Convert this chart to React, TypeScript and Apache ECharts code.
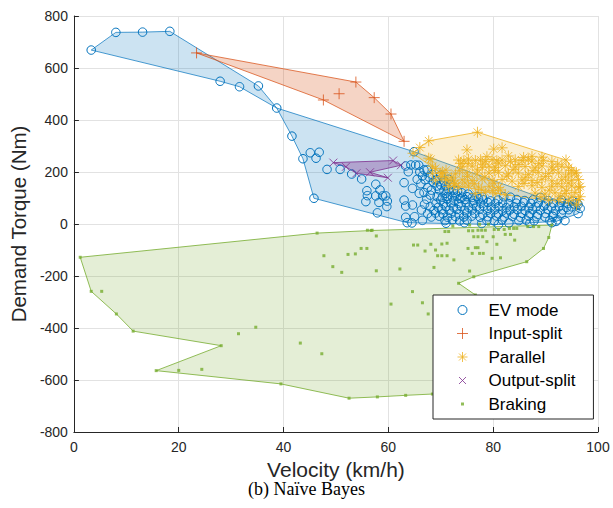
import React, { useEffect, useRef } from "react";
import * as echarts from "echarts";

// Operating points: [velocity km/h, demand torque Nm]
const evModePoints: number[][] = [
  [3.3, 669], [8.0, 737], [13.1, 738], [18.3, 741], [27.9, 549], [31.6, 528], [35.2, 531],
  [38.7, 446], [41.6, 338], [43.7, 251], [45.8, 99], [45.1, 274], [46.8, 276], [46.2, 253],
  [48.3, 210], [50.8, 210], [53.0, 192], [54.9, 173], [57.6, 153], [55.9, 128], [56.0, 109],
  [55.7, 86], [57.6, 108], [58.4, 131], [58.9, 108], [59.5, 108], [58.2, 83], [59.7, 67],
  [59.8, 88], [57.9, 43], [63.0, 159], [63.0, 92], [63.3, 69], [64.6, 73], [63.3, 26],
  [63.6, 5], [63.3, 223], [63.8, 201], [64.3, 227], [65.2, 227], [65.8, 226], [64.9, 278],
  [64.6, 137], [66.9, 76], [66.8, 208], [67.4, 208], [69.0, 169], [69.3, 146],
  [81.0, -2], [92.0, 10], [96.2, 40], [96.6, 60], [96.2, 75], [89.0, 102],
  [66.0, 200], [66.5, 185], [67.0, 170], [66.2, 155], [67.5, 140], [66.8, 121], [68.0, 111],
  [67.3, 95], [65.5, 172], [65.9, 118], [68.2, 130], [67.8, 180], [68.6, 160],
  [68.4, 190], [70.0, 188],
  [69.3, 170], [70.6, 166], [71.5, 172],
  [70.0, 150], [70.9, 146], [71.8, 152],
  [69.7, 131], [70.6, 129], [71.5, 133], [72.5, 130], [73.2, 127],
  [71.0, 118], [72.8, 116], [74.0, 120], [75.2, 115],
  [69.3, 105], [70.3, 103], [71.2, 106], [72.2, 104], [73.1, 107], [74.1, 103], [75.0, 105],
  [76.0, 102], [76.9, 106], [77.9, 104], [82.0, 105], [83.3, 103],
  [70.0, 92], [72.5, 90], [74.6, 94], [76.3, 91], [78.1, 93], [79.5, 89], [80.9, 92], [84.5, 94], [86.0, 90],
  [71.2, 96], [73.7, 98], [77.2, 97], [87.6, 93], [90.5, 90], [93.0, 92], [95.1, 88],
  [69.1, 80], [70.5, 78], [71.9, 81], [73.4, 79], [74.8, 82], [76.2, 78], [77.6, 80], [79.0, 83],
  [80.4, 79], [81.8, 81], [83.0, 78], [84.4, 80], [85.8, 82], [87.2, 79], [88.6, 81], [90.0, 78],
  [91.5, 80], [92.9, 83], [94.2, 79], [95.4, 77], [96.0, 81],
  [68.0, 66], [69.5, 64], [71.0, 67], [72.4, 65], [73.9, 68], [75.3, 64], [76.8, 66], [78.2, 69],
  [79.6, 65], [81.1, 67], [82.5, 63], [84.0, 66], [85.4, 68], [86.8, 64], [88.2, 66], [89.7, 69],
  [91.1, 65], [92.6, 67], [94.0, 64], [95.0, 66],
  [66.3, 54], [68.7, 52], [70.2, 55], [71.6, 53], [73.1, 56], [74.5, 52], [76.0, 54], [77.4, 57],
  [78.9, 53], [80.3, 55], [81.8, 51], [83.2, 54], [84.6, 56], [86.1, 52], [87.5, 55], [89.0, 53],
  [90.4, 56], [91.9, 52], [93.3, 54], [94.4, 55],
  [67.5, 40], [69.0, 42], [70.4, 39], [72.0, 41], [73.5, 38], [75.0, 42], [76.5, 40], [78.0, 37],
  [79.5, 41], [81.0, 39], [82.5, 42], [84.0, 38], [85.5, 41], [87.0, 40], [88.5, 37], [90.0, 41],
  [91.5, 39], [93.0, 40],
  [65.0, 28], [68.2, 27], [69.7, 30], [71.3, 26], [72.8, 29], [74.4, 27], [75.9, 30], [77.5, 26],
  [79.0, 28], [80.6, 31], [82.1, 27], [83.7, 29], [85.2, 26], [86.8, 30], [88.3, 28], [89.9, 27],
  [91.4, 29],
  [66.5, 14], [70.8, 13], [72.2, 16], [73.6, 12], [75.0, 15], [78.8, 14], [80.2, 12], [81.7, 16],
  [84.9, 13], [86.3, 15], [87.8, 12], [90.8, 14], [92.3, 16], [93.7, 13],
  [64.5, 4], [71.0, 3], [74.5, 5], [77.8, 2], [83.0, 4], [87.0, 3], [91.2, 5],
];

const inputSplitPoints: number[][] = [
  [23.4, 658], [47.6, 477], [50.6, 501], [53.8, 546], [57.3, 486], [60.5, 423], [63.0, 318],
];

const parallelPoints: number[][] = [
  [64.7, 272], [66.0, 294], [67.7, 320], [77.0, 353], [93.9, 246], [95.9, 197], [96.6, 144],
  [96.6, 105], [95.9, 73], [68.1, 249], [69.0, 214], [70.0, 195], [71.2, 169], [72.5, 150],
  [73.8, 233], [75.0, 285], [80.1, 288], [81.7, 293], [81.4, 131], [82.3, 112], [67.7, 253],
  [68.4, 222],
  [78.8, 259], [82.9, 262], [85.8, 256], [87.4, 260], [89.3, 257],
  [73.4, 246], [74.4, 243], [75.3, 249], [76.6, 244], [77.6, 247], [78.5, 241], [79.8, 248],
  [80.7, 243], [81.7, 246], [83.3, 240], [84.2, 247], [85.5, 244], [86.7, 249], [87.4, 242],
  [89.6, 245], [91.2, 240],
  [75.2, 232], [78.0, 230], [81.0, 234], [84.9, 229], [88.7, 233], [92.3, 230],
  [74.1, 220], [76.0, 223], [77.9, 217], [79.2, 222], [80.4, 218], [82.3, 224], [84.2, 219],
  [86.1, 221], [88.0, 216], [89.3, 223], [91.2, 219], [93.1, 222], [94.4, 217],
  [71.0, 207], [73.6, 205], [77.0, 208], [80.3, 206], [83.8, 209], [87.6, 205], [91.4, 208],
  [94.9, 206],
  [68.4, 195], [70.3, 198], [72.8, 193], [75.0, 197], [76.9, 192], [79.2, 196], [81.0, 199],
  [82.9, 193], [84.8, 196], [86.7, 191], [88.6, 198], [90.6, 194], [92.5, 197], [94.4, 192],
  [95.6, 196],
  [70.1, 182], [72.0, 180], [75.1, 183], [78.4, 181], [82.6, 184], [86.2, 180], [90.0, 183],
  [93.8, 181],
  [69.0, 169], [70.9, 172], [72.5, 166], [74.1, 170], [76.0, 167], [77.9, 173], [79.8, 168],
  [81.7, 171], [83.6, 165], [85.5, 170], [87.4, 167], [89.3, 172], [91.2, 166], [93.1, 170],
  [95.0, 168], [96.3, 171],
  [72.7, 156], [74.6, 158], [76.4, 155], [80.2, 157], [85.9, 156], [88.4, 159], [92.2, 155],
  [94.3, 157],
  [71.5, 144], [73.4, 141], [75.3, 146], [77.2, 142], [79.2, 145], [81.0, 140], [84.8, 144],
  [87.4, 147], [89.3, 141], [91.2, 145], [93.1, 143], [95.0, 146], [96.3, 140],
  [77.8, 131], [79.9, 129], [90.7, 130], [94.0, 128],
  [76.6, 118], [78.5, 121], [80.4, 116], [88.0, 119], [89.9, 115], [91.8, 120], [93.7, 117],
  [95.6, 121],
  [89.1, 105], [92.9, 107], [95.0, 104],
  [90.6, 92], [92.5, 95], [94.4, 90], [96.3, 94],
];

const outputSplitPoints: number[][] = [
  [49.5, 236], [51.9, 220], [53.9, 195], [56.5, 199], [59.9, 178], [60.9, 244], [62.4, 226],
];

const brakingPoints: number[][] = [
  [1.2, -128], [3.3, -259], [5.3, -259], [8.1, -346], [11.3, -412], [28.1, -468], [15.7, -564],
  [20.0, -563], [24.4, -559], [31.4, -422], [34.7, -397], [39.5, -615], [43.2, -458],
  [47.3, -499], [52.5, -670], [46.4, -35], [47.7, -122], [49.4, -164], [51.1, -186],
  [52.3, -117], [53.7, -115], [54.8, -94], [56.7, -25], [57.7, -46], [55.9, -94], [57.7, -180],
  [62.2, -173], [64.8, -81], [65.6, -81], [67.0, -104], [68.1, -78], [69.0, -100], [70.2, -77],
  [71.2, -74], [69.4, -122], [70.2, -122], [71.2, -122], [68.7, -167], [72.5, -138],
  [64.6, -260], [60.5, -308], [66.5, -303], [67.6, -346], [70.8, -29], [71.5, -29], [72.3, -8],
  [75.3, -26], [76.1, -26], [77.1, -24], [77.8, -24], [78.5, -24], [80.2, -21], [81.0, -21],
  [82.1, -21], [75.5, -4], [77.4, -1], [79.1, -1], [83.1, -17], [83.9, -17], [84.5, -17],
  [86.6, -10], [87.7, -10], [88.7, -10], [76.3, -49], [77.1, -49], [78.0, -49], [78.8, -68],
  [80.0, -49], [82.3, -40], [83.3, -40], [84.1, -62], [80.7, -78], [76.6, -91], [75.2, -94],
  [77.1, -91], [76.0, -113], [77.4, -113], [78.1, -113], [79.8, -132], [81.4, -130],
  [75.5, -181], [56.0, -24], [56.9, -24], [91.2, -4], [90.6, -52], [89.6, -94], [86.4, -145],
  [76.3, -203], [73.4, -228], [76.6, -273], [82.0, -330], [80.0, -640], [57.9, -665],
  [63.3, -659], [68.4, -654],
];

// Boundary of each mode's region, vertices taken from the points above
const evModeHull: number[][] = [
  [3.3, 669], [8.0, 737], [13.1, 738], [18.3, 741], [35.2, 531], [38.7, 446], [41.6, 338],
  [43.7, 251], [45.8, 99], [63.6, 5], [81.0, -2], [92.0, 10], [96.2, 40], [96.6, 60],
  [96.2, 75], [89.0, 102], [64.9, 278], [38.7, 446], [31.6, 528], [27.9, 549],
];
const inputSplitHull: number[][] = [
  [23.4, 658], [53.8, 546], [57.3, 486], [60.5, 423], [63.0, 318], [47.6, 477],
];
const parallelHull: number[][] = [
  [64.7, 272], [66.0, 294], [67.7, 320], [77.0, 353], [93.9, 246], [95.9, 197], [96.6, 144],
  [96.6, 105], [95.9, 73], [90.6, 92], [82.3, 112], [72.5, 150], [70.0, 195],
];
const outputSplitHull: number[][] = [
  [49.5, 236], [60.9, 244], [62.4, 226], [56.5, 199], [59.9, 178], [53.9, 195], [51.9, 220],
];
const brakingHull: number[][] = [
  [1.2, -128], [46.4, -35], [56.7, -25], [91.2, -4], [90.6, -52], [89.6, -94], [86.4, -145],
  [76.3, -203], [73.4, -228], [76.6, -273], [82.0, -330], [80.0, -640], [68.4, -654],
  [63.3, -659], [57.9, -665], [52.5, -670], [39.5, -615], [15.7, -564], [28.1, -468],
  [11.3, -412], [8.1, -346], [3.3, -259],
];

const modeNames = ["EV mode", "Input-split", "Parallel", "Output-split", "Braking"];
const xTicks = { min: 0, max: 100, interval: 20 };
const yTicks = { min: -800, max: 800, interval: 200 };

const BLUE = "#0072BD";
const RED = "#D95319";
const YELLOW = "#EDB120";
const PURPLE = "#7E2F8E";
const GREEN = "#77AC30";

const PLUS = "path://M5,0L5,10M0,5L10,5";
const STAR = "path://M5,0L5,10M0,5L10,5M1.5,1.5L8.5,8.5M8.5,1.5L1.5,8.5";
const CROSS = "path://M0,0L10,10M10,0L0,10";
const DOT = "path://M0,0M10,10M3.5,3.5L6.5,3.5L6.5,6.5L3.5,6.5Z";
// Legend glyphs, padded so that each one keeps its marker size inside the icon box
const LEG_CIRCLE = "path://M0,0M14,14M11.5,7A4.5,4.5,0,1,1,2.5,7A4.5,4.5,0,1,1,11.5,7Z";
const LEG_PLUS = "path://M0,0M14,14M7,1.5L7,12.5M1.5,7L12.5,7";
const LEG_STAR = "path://M0,0M14,14M7,2L7,12M2,7L12,7M3.5,3.5L10.5,10.5M10.5,3.5L3.5,10.5";
const LEG_CROSS = "path://M0,0M14,14M3.5,3.5L10.5,10.5M10.5,3.5L3.5,10.5";
const LEG_DOT = "path://M0,0M14,14M5.5,5.5L8.5,5.5L8.5,8.5L5.5,8.5Z";

const SANS = "'Liberation Sans', Arial, Helvetica, sans-serif";

function hullSeries(id: string, hull: number[][], fill: string, stroke: string) {
  return {
    type: "custom",
    id,
    silent: true,
    z: 1,
    data: [hull[0]],
    renderItem: (_params: any, api: any) => ({
      type: "polygon",
      shape: { points: hull.map((p) => api.coord(p)) },
      style: { fill, stroke, lineWidth: 1 },
    }),
  };
}

export default function App() {
  const ref = useRef<HTMLDivElement>(null);

  useEffect(() => {
    if (!ref.current) return;
    const chart = echarts.init(ref.current, undefined, { renderer: "svg" });
    chart.setOption({
      animation: false,
      backgroundColor: "#fff",
      textStyle: { fontFamily: SANS },
      grid: { left: 72, right: 15, top: 16, bottom: 76, containLabel: false },
      xAxis: {
        type: "value",
        ...xTicks,
        name: "Velocity (km/h)",
        nameLocation: "middle",
        nameGap: 27,
        nameTextStyle: { fontSize: 21, color: "#262626", fontFamily: SANS },
        axisLine: { show: true, onZero: false, lineStyle: { color: "#262626", width: 1 } },
        axisTick: { show: true, inside: true, length: 5, lineStyle: { color: "#262626" } },
        axisLabel: { fontSize: 14, color: "#262626", margin: 8, fontFamily: SANS },
        splitLine: { show: true, lineStyle: { color: "#e2e2e2", width: 1 } },
      },
      yAxis: {
        type: "value",
        ...yTicks,
        name: "Demand Torque (Nm)",
        nameLocation: "middle",
        nameGap: 44,
        nameRotate: 90,
        nameTextStyle: { fontSize: 20.5, color: "#262626", fontFamily: SANS },
        axisLine: { show: true, onZero: false, lineStyle: { color: "#262626", width: 1 } },
        axisTick: { show: true, inside: true, length: 5, lineStyle: { color: "#262626" } },
        axisLabel: { fontSize: 14, color: "#262626", margin: 6, fontFamily: SANS },
        splitLine: { show: true, lineStyle: { color: "#e2e2e2", width: 1 } },
      },
      legend: {
        data: [
          { name: modeNames[0], icon: LEG_CIRCLE },
          { name: modeNames[1], icon: LEG_PLUS },
          { name: modeNames[2], icon: LEG_STAR },
          { name: modeNames[3], icon: LEG_CROSS },
          { name: modeNames[4], icon: LEG_DOT },
        ],
        orient: "vertical",
        left: 433,
        top: 295,
        padding: [5, 18, 5, 22],
        itemWidth: 14,
        itemHeight: 14,
        itemGap: 3.5,
        itemStyle: { borderWidth: 1 },
        backgroundColor: "#fff",
        borderColor: "#262626",
        borderWidth: 1,
        borderRadius: 0,
        textStyle: {
          fontSize: 17,
          lineHeight: 20,
          color: "#000",
          fontFamily: SANS,
          padding: [0, 0, 0, 14],
        },
      },
      series: [
        hullSeries("ev-hull", evModeHull, "rgba(0,114,189,0.2)", "rgba(0,114,189,0.7)"),
        hullSeries("in-hull", inputSplitHull, "rgba(217,83,25,0.25)", "rgba(217,83,25,0.75)"),
        hullSeries("par-hull", parallelHull, "rgba(237,177,32,0.2)", "rgba(237,177,32,0.8)"),
        hullSeries("out-hull", outputSplitHull, "rgba(126,47,142,0.35)", "rgba(126,47,142,0.8)"),
        hullSeries("brk-hull", brakingHull, "rgba(119,172,48,0.2)", "rgba(119,172,48,0.8)"),
        {
          type: "scatter",
          name: modeNames[0],
          data: evModePoints,
          symbol: "circle",
          symbolSize: 8.5,
          z: 3,
          itemStyle: { color: "rgba(0,0,0,0)", borderColor: BLUE, borderWidth: 1, opacity: 1 },
        },
        {
          type: "scatter",
          name: modeNames[1],
          data: inputSplitPoints,
          symbol: PLUS,
          symbolSize: 11,
          z: 3,
          itemStyle: { color: "rgba(0,0,0,0)", borderColor: RED, borderWidth: 1 },
        },
        {
          type: "scatter",
          name: modeNames[2],
          data: parallelPoints,
          symbol: STAR,
          symbolSize: 11,
          z: 3,
          itemStyle: { color: "rgba(0,0,0,0)", borderColor: YELLOW, borderWidth: 1 },
        },
        {
          type: "scatter",
          name: modeNames[3],
          data: outputSplitPoints,
          symbol: CROSS,
          symbolSize: 8,
          z: 3,
          itemStyle: { color: "rgba(0,0,0,0)", borderColor: PURPLE, borderWidth: 1 },
        },
        {
          type: "scatter",
          name: modeNames[4],
          data: brakingPoints,
          symbol: DOT,
          symbolSize: 10,
          z: 3,
          itemStyle: { color: GREEN, borderWidth: 0 },
        },
      ],
      graphic: [
        {
          type: "text",
          left: "center",
          top: 480,
          style: {
            text: "(b) Naïve Bayes",
            fontFamily: "'Liberation Serif', 'Times New Roman', serif",
            fontSize: 18,
            fill: "#000",
          },
        },
      ],
    });
    return () => chart.dispose();
  }, []);

  return (
    <div
      ref={ref}
      style={{ position: "fixed", left: 0, top: 0, width: 613, height: 508 }}
    />
  );
}
